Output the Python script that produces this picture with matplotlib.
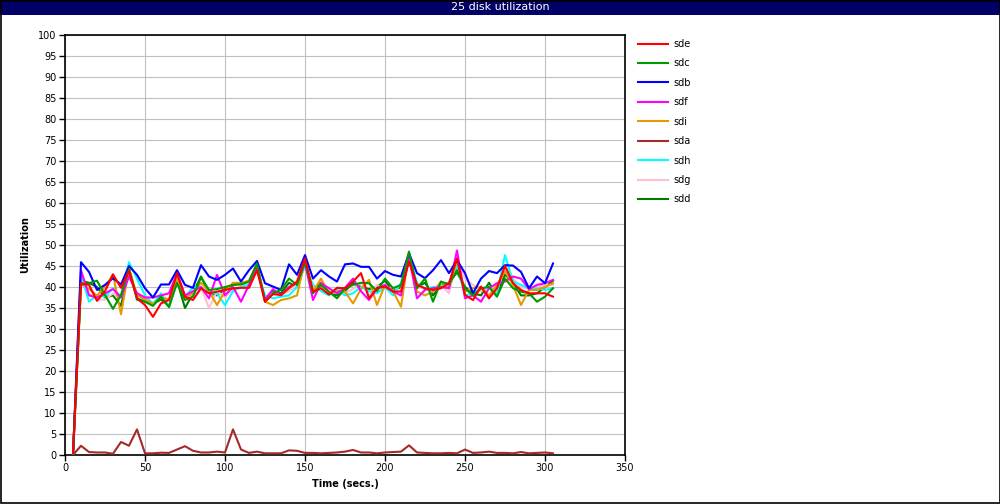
import matplotlib
matplotlib.use("Agg")
import matplotlib.pyplot as plt
from matplotlib.patches import Rectangle
import numpy as np

title = "25 disk utilization"
times = list(range(5, 306, 5))

sde = [0.5, 40.9, 40.5, 36.7, 39, 43, 39.8, 43.8, 37.3, 35.7, 32.9, 36.1, 36.9, 43.3, 37.7, 36.9, 39.7, 38.5, 38.9, 39.3,
       39.7, 39.8, 39.8, 44, 36.5, 38.3, 38.1, 39.7, 41.3, 46.8, 38.9, 39.7, 38.2, 39.8, 39.7, 41.3, 43.3, 37.3, 39.7, 40.1,
       38.9, 38.9, 46, 40.5, 39.7, 39.3, 39.7, 40.9, 46.8, 38.1, 36.9, 40.1, 37.3, 39.7, 45, 40.9, 39.3, 38.5, 38.5, 38.5, 37.7]
sdc = [0, 40.5, 40.9, 41.5, 38.1, 34.8, 38.1, 44.2, 37.3, 36.5, 35.5, 37.7, 35.2, 41, 36.9, 37.7, 42.3, 39.3, 39.5, 40,
       40.5, 40.6, 41.3, 45.6, 36.5, 38.5, 39.3, 42, 40.5, 46, 38.5, 40.5, 38.9, 37.3, 39.7, 40.5, 41, 40.9, 39, 42,
       39.7, 40.5, 48.4, 39.7, 42, 36.5, 41.3, 40.6, 44, 39.7, 38, 39.7, 40, 37.7, 42, 39.7, 38.9, 38.5, 36.5, 37.7, 39.7]
sdb = [0, 45.9, 43.6, 39.3, 40.5, 42.1, 40.6, 45, 42.9, 39.7, 37.5, 40.6, 40.6, 44, 40.5, 39.8, 45.2, 42.5, 41.7, 42.9,
       44.4, 41.3, 44, 46.2, 40.9, 40.1, 39.3, 45.4, 42.9, 47.6, 42, 44, 42.5, 41.3, 45.4, 45.6, 44.8, 44.8, 42, 43.8,
       42.9, 42.5, 48, 43.3, 42.1, 44, 46.4, 43.3, 46.4, 43.3, 38.5, 42, 43.8, 43.3, 45.2, 45.1, 43.6, 39.7, 42.5, 40.9, 45.6]
sdf = [0, 44, 38, 37.5, 38.5, 39.5, 37.5, 42.5, 38.5, 37.5, 37.5, 38, 38.5, 43.3, 38, 39, 40, 37.3, 42.9, 38,
       40, 36.5, 40.5, 44.5, 37, 39.5, 38, 40, 41, 45.6, 36.9, 40.9, 39.7, 38.5, 39.8, 42, 39, 36.9, 39.7, 40.5,
       38.9, 38, 47.2, 37.3, 39.3, 39.7, 40, 39.7, 48.7, 37.3, 38, 36.5, 39.7, 40.9, 41.3, 42.5, 42, 39.5, 40.5, 40.9, 41.7]
sdi = [0, 41, 39.5, 38, 40, 43, 33.5, 44.5, 38, 37, 36, 37.5, 37, 42, 37.5, 38.5, 41, 39, 35.7, 39,
       41, 41, 41.5, 45.6, 36.5, 35.7, 36.9, 37.3, 38, 46.4, 38.9, 42, 38.5, 39, 38.9, 36.1, 39.5, 41.7, 35.7, 40.5,
       39, 35.3, 48, 38.9, 38, 38.9, 41.3, 39.7, 46.4, 38.9, 39.7, 40, 38, 40.5, 43.7, 40.5, 35.7, 39.3, 39.3, 40, 40.9]
sda = [0, 2.2, 0.7, 0.6, 0.6, 0.3, 3.1, 2.2, 6.1, 0.4, 0.4, 0.55, 0.5, 1.3, 2.1, 1.0, 0.6, 0.6, 0.8, 0.6,
       6.1, 1.3, 0.5, 0.8, 0.4, 0.4, 0.4, 1.1, 1.0, 0.5, 0.5, 0.4, 0.5, 0.6, 0.8, 1.2, 0.6, 0.6, 0.4, 0.6,
       0.7, 0.8, 2.3, 0.6, 0.5, 0.4, 0.4, 0.5, 0.4, 1.3, 0.5, 0.6, 0.8, 0.5, 0.5, 0.4, 0.7, 0.4, 0.5, 0.6, 0.4]
sdh = [0, 43, 36.5, 38, 37.7, 39.7, 37.7, 45.9, 42, 38, 36, 38.5, 35.2, 41, 37.5, 40, 40, 38.5, 38.5, 35.7,
       39, 40, 40.5, 44, 38, 37.3, 37.7, 38, 40, 45, 40.5, 39, 38, 39.5, 38, 38.5, 40, 39, 38.5, 40,
       38, 41, 47.5, 41, 39.5, 40, 40, 41, 45, 38, 38.5, 39.5, 40, 38.5, 47.6, 41.3, 40.5, 39.7, 39.7, 39.3, 39.7]
sdg = [0, 41, 38.5, 37, 37, 38.5, 37.5, 43, 38.5, 37.5, 36, 38, 37, 41.5, 37, 38, 40, 35, 39, 37.5,
       39.5, 40, 41, 44.5, 37.5, 38.5, 38, 39, 40.5, 46, 39, 40, 38.5, 39.5, 38.5, 39.5, 41, 38, 40.5, 39.5,
       40, 39, 48.5, 40, 39.5, 39, 40.5, 38.5, 46.5, 42, 40.5, 39, 40, 39.5, 45, 42, 40, 39.5, 40, 40.5, 40.5]
sdd = [0, 41.5, 41, 40, 37.5, 38, 35.5, 44.5, 37, 36.5, 36, 37, 35.5, 41.5, 35, 38.5, 42.5, 38.5, 38, 39.5,
       40.5, 41, 40.5, 45, 37, 39, 38.5, 41, 40, 45.5, 39, 41, 38.5, 38, 39, 41, 40, 39.5, 40, 41.5,
       39, 40, 47.5, 40, 41, 38, 40.5, 41, 43.5, 40, 38.5, 38, 41, 38, 43, 41, 38, 38, 38.5, 40, 41.5]

names = ["sde", "sdc", "sdb", "sdf", "sdi", "sda", "sdh", "sdg", "sdd"]
series = [sde, sdc, sdb, sdf, sdi, sda, sdh, sdg, sdd]
colors = ["#ff0000", "#009900", "#0000ff", "#ff00ff", "#e69900", "#a52a2a", "#00ffff", "#ffc0cb", "#007a00"]

xticks = list(range(0, 351, 50))
yticks = list(range(0, 101, 5))

plt.rcParams['font.family'] = ['DejaVu Sans']
fig = plt.figure(figsize=(10, 5.04), dpi=100)
W, H = 1000, 504

# title bar
fig.patches.append(Rectangle((0, 1 - 15 / H), 1, 15 / H, transform=fig.transFigure,
                             facecolor="#000066", edgecolor="none", zorder=0))
fig.text(0.5, 1 - 7.5 / H, title, color="white", ha="center", va="center", fontsize=8)
# outer border
fig.patches.append(Rectangle((0.0005, 0.001), 0.999, 0.998, transform=fig.transFigure,
                             facecolor="none", edgecolor="black", lw=1.2, zorder=5))

ax = fig.add_axes([65 / W, 1 - 455 / H, 560 / W, 420 / H])
n = len(names)
lines = []
for i, (nm, s, c) in enumerate(zip(names, series, colors)):
    ln, = ax.plot(times, s, color=c, lw=1.5, label=nm, zorder=3 + (n - i) * 0.1)
    lines.append(ln)

ax.set_xlim(0, 350)
ax.set_ylim(0, 100)
ax.set_xticks(xticks)
ax.set_yticks(yticks)
ax.tick_params(direction="out", length=4, width=1, labelsize=7, pad=2)
ax.grid(True, color="#c0c0c0", lw=0.8)
ax.set_axisbelow(True)
for sp in ax.spines.values():
    sp.set_linewidth(1.2)
    sp.set_color("black")
ax.set_xlabel("Time (secs.)", fontsize=7, fontweight="bold", labelpad=4)
ax.set_ylabel("Utilization", fontsize=7, fontweight="bold", labelpad=6)

fig.legend(lines, names, loc="upper left", bbox_to_anchor=(638 / W, 1 - 39 / H),
           frameon=False, fontsize=7, handlelength=3.1, handletextpad=0.5,
           labelspacing=0.97, borderaxespad=0, borderpad=0)

fig.savefig("out.png", dpi=100)
